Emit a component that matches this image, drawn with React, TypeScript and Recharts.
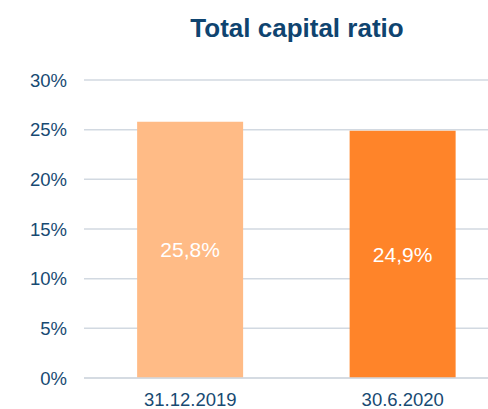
import React from "react";
import { BarChart, Bar, XAxis, YAxis, CartesianGrid, LabelList, Cell } from "recharts";

const categories = ["31.12.2019", "30.6.2020"];
const values = [25.8, 24.9];
const valueLabels = ["25,8%", "24,9%"];
const barColors = ["#FFBB86", "#FF8429"];
const yTicks = [0, 5, 10, 15, 20, 25, 30];

const data = categories.map((c, i) => ({ name: c, value: values[i], label: valueLabels[i] }));

const FONT = '"Liberation Sans", Arial, sans-serif';
const TEXT = "#174A72";

export default function App() {
  return (
    <div style={{ position: "absolute", left: 0, top: 0, width: 488, height: 409, overflow: "hidden", background: "#fff" }}>
      <div
        style={{
          position: "absolute",
          left: 297 - 150,
          top: 0,
          width: 300,
          textAlign: "center",
          fontFamily: FONT,
          fontWeight: "bold",
          fontSize: 26,
          color: "#0F4470",
          lineHeight: "30px",
          paddingTop: 13,
        }}
      >
        Total capital ratio
      </div>
      <BarChart
        width={509}
        height={409}
        data={data}
        margin={{ top: 80, right: 0, bottom: 0, left: 0 }}
        barCategoryGap="25%"
      >
        <CartesianGrid vertical={false} stroke="#D2D9E1" strokeWidth={1.5} />
        <XAxis
          dataKey="name"
          height={31}
          tickLine={false}
          axisLine={{ stroke: "#D2D9E1", strokeWidth: 1.5 }}
          tickSize={6}
          tickMargin={9}
          tick={{ fill: TEXT, fontSize: 18.5, fontFamily: FONT }}
        />
        <YAxis
          width={84}
          domain={[0, 30]}
          ticks={yTicks}
          tickFormatter={(v: number) => `${v}%`}
          tickLine={false}
          axisLine={false}
          tickSize={6}
          tickMargin={11}
          tick={{ fill: TEXT, fontSize: 18.5, fontFamily: FONT }}
        />
        <Bar dataKey="value" isAnimationActive={false}>
          {data.map((d, i) => (
            <Cell key={d.name} fill={barColors[i]} />
          ))}
          <LabelList dataKey="label" position="center" fill="#FFFFFF" fontSize={21} fontFamily={FONT} />
        </Bar>
      </BarChart>
    </div>
  );
}
